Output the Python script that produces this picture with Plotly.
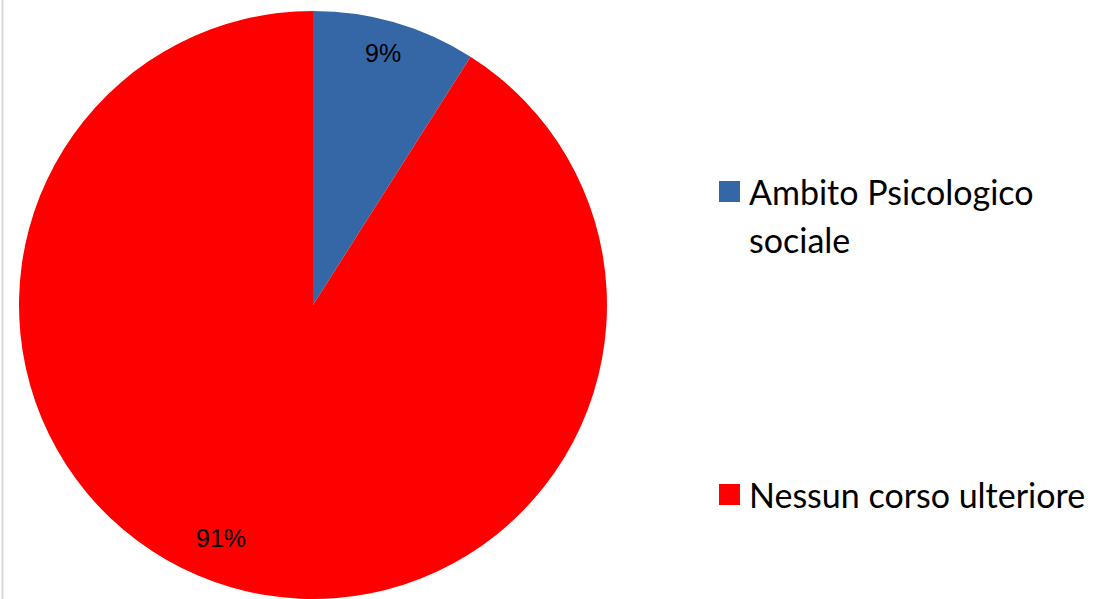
import plotly.graph_objects as go

categories = ["Ambito Psicologico sociale", "Nessun corso ulteriore"]
values = [9, 91]
colors = ["#3566A6", "#FF0000"]
pct_labels = ["9%", "91%"]
legend_lines = [["Ambito Psicologico", "sociale"], ["Nessun corso ulteriore"]]

W, H = 1097, 599

fig = go.Figure(go.Pie(
    labels=categories, values=values, sort=False, direction="clockwise",
    rotation=0, marker=dict(colors=colors, line=dict(width=0)),
    textinfo="none", hoverinfo="label+percent", showlegend=False,
    domain=dict(x=[19 / W, 607 / W], y=[0, 588 / H]),
))

def px(x, y):
    return x / W, 1 - y / H

annotations = []
label_pos = [(383, 53), (221, 538)]
for t, (x, y) in zip(pct_labels, label_pos):
    ax, ay = px(x, y)
    annotations.append(dict(x=ax, y=ay, xref="paper", yref="paper", text=t, showarrow=False,
                            xanchor="center", yanchor="middle",
                            font=dict(family="Liberation Sans, Arial", size=25, color="#000000")))

shapes = [dict(type="line", xref="paper", yref="paper", x0=2.5 / W, x1=2.5 / W, y0=0, y1=1,
               line=dict(color="#D9D9D9", width=2))]

legend_tops = [181, 484]
line_gap = 48
for lines, col, top in zip(legend_lines, colors, legend_tops):
    x0, y0 = px(719, top)
    x1, y1 = px(740, top + 21)
    shapes.append(dict(type="rect", xref="paper", yref="paper", x0=x0, x1=x1, y0=y1, y1=y0,
                       fillcolor=col, line=dict(width=0)))
    for i, ln in enumerate(lines):
        ax, ay = px(747, top + 10.5 + i * line_gap)
        annotations.append(dict(x=ax, y=ay, xref="paper", yref="paper", text=ln, showarrow=False,
                                xanchor="left", yanchor="middle",
                                font=dict(family="Lato", size=34, color="#000000")))

fig.update_layout(width=W, height=H, margin=dict(l=0, r=0, t=0, b=0),
                  paper_bgcolor="white", plot_bgcolor="white",
                  annotations=annotations, shapes=shapes)

fig.write_html("out.html", config={"displayModeBar": False},
               post_script="document.body.style.margin='0';document.body.style.overflow='hidden';")
